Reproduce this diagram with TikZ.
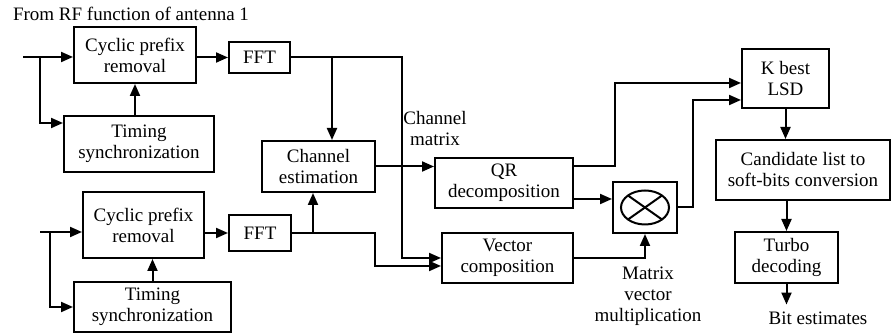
\documentclass[tikz,border=0pt]{standalone}
\usepackage{fontspec}
\setmainfont{Liberation Serif}
\usetikzlibrary{arrows.meta}

\begin{document}
\begin{tikzpicture}[x=0.5pt, y=-0.5pt, every node/.style={font=\fontsize{9.5}{10.5}\selectfont, align=center},
    blk/.style={draw, line width=1pt, inner sep=0pt},
    arr/.style={-{Triangle[length=6pt,width=5pt]}, line width=1pt}]

    \useasboundingbox (0,0) rectangle (891,335);

    % title
    \node[anchor=west] (title) at (6,14) {From RF function of antenna 1};

    % antenna 1 front end
    \node[blk, minimum width=61pt, minimum height=28pt] (cp1) at (135,55) {Cyclic prefix\\removal};
    \node[blk, minimum width=75pt, minimum height=28pt] (ts1) at (139,144) {Timing\\synchronization};
    \node[blk, minimum width=30.5pt, minimum height=15.5pt] (fft1) at (259.5,57.5) {FFT};

    % antenna 2 front end
    \node[blk, minimum width=60.5pt, minimum height=33pt] (cp2) at (143.5,225) {Cyclic prefix\\removal};
    \node[blk, minimum width=78.5pt, minimum height=25pt] (ts2) at (152.5,307) {Timing\\synchronization};
    \node[blk, minimum width=31pt, minimum height=18pt] (fft2) at (260,233) {FFT};

    % channel estimation
    \node[blk, minimum width=56.5pt, minimum height=25.5pt] (ce) at (318.5,166.5) {Channel\\estimation};

    % QR and vector composition
    \node[blk, minimum width=69pt, minimum height=25pt] (qr) at (504,183) {QR\\decomposition};
    \node[blk, minimum width=65.5pt, minimum height=25pt] (vc) at (507.5,258) {Vector\\composition};

    % matrix vector multiplication
    \node[blk, minimum width=32pt, minimum height=25.5pt] (mult) at (645,207.5) {};
    \draw[line width=1pt] (mult.center) ellipse [x radius=12pt, y radius=8.5pt];
    \draw[line width=1pt] ([shift={(-8.5pt,6pt)}]mult.center) -- ([shift={(8.5pt,-6pt)}]mult.center);
    \draw[line width=1pt] ([shift={(-8.5pt,-6pt)}]mult.center) -- ([shift={(8.5pt,6pt)}]mult.center);

    % detector and decoder
    \node[blk, minimum width=43.5pt, minimum height=29.5pt] (lsd) at (785.5,78.5) {K best\\LSD};
    \node[blk, minimum width=87pt, minimum height=30pt] (cand) at (803,170) {Candidate list to\\soft-bits conversion};
    \node[blk, minimum width=51.5pt, minimum height=25.5pt] (turbo) at (786.5,257.5) {Turbo\\decoding};

    % labels
    \node (chm) at (435,129) {Channel\\matrix};
    \node (mvm) at (648,296) {Matrix\\vector\\multiplication};
    \node (bits) at (818,318) {Bit estimates};

    % inputs 1
    \coordinate (in1) at (23,57);
    \coordinate (s1) at (40,57);
    \coordinate (t1) at (40,123);
    \draw[arr] (in1) -- (in1 -| cp1.west);
    \draw[arr] (s1) -- (t1) -- (t1 -| ts1.west);
    \draw[arr] (ts1.north -| cp1.south) -- (cp1.south);
    \draw[arr] (cp1.east |- fft1.west) -- (fft1.west);

    % inputs 2
    \coordinate (in2) at (40,232);
    \coordinate (s2) at (50,232);
    \coordinate (t2) at (50,307);
    \draw[arr] (in2) -- (in2 -| cp2.west);
    \draw[arr] (s2) -- (t2) -- (t2 -| ts2.west);
    \draw[arr] (ts2.north) -- (ts2.north |- cp2.south);
    \draw[arr] (cp2.east |- fft2.west) -- (fft2.west);

    % FFT outputs
    \coordinate (h1) at (402,258);
    \coordinate (d1) at (332,57);
    \draw[arr] (fft1.east) -| (h1) -- (h1 -| vc.west);
    \draw[arr] (d1) -- (d1 |- ce.north);
    \coordinate (h2) at (375,266);
    \coordinate (d2) at (313,233);
    \draw[arr] (fft2.east) -| (h2) -- (h2 -| vc.west);
    \draw[arr] (d2) -- (d2 |- ce.south);

    % channel estimate to QR
    \draw[arr] (ce.east) -- (ce.east -| qr.west);

    % QR and multiplier to LSD
    \coordinate (k1) at (615,83);
    \draw[arr] ([yshift=8.5pt]qr.east) -| (k1) -- (k1 -| lsd.west);
    \draw[arr] ([yshift=-8pt]qr.east) -- ([yshift=-8pt]qr.east -| mult.west);
    \draw[arr] (vc.east) -| (mult.south);
    \coordinate (k2) at (693,100);
    \draw[arr] (mult.east) -| (k2) -- (k2 -| lsd.west);

    % decoder chain
    \draw[arr] (lsd.south) -- (lsd.south |- cand.north);
    \draw[arr] (turbo.north |- cand.south) -- (turbo.north);
    \draw[arr] (turbo.south) -- (turbo.south |- bits.north);

\end{tikzpicture}
\end{document}
